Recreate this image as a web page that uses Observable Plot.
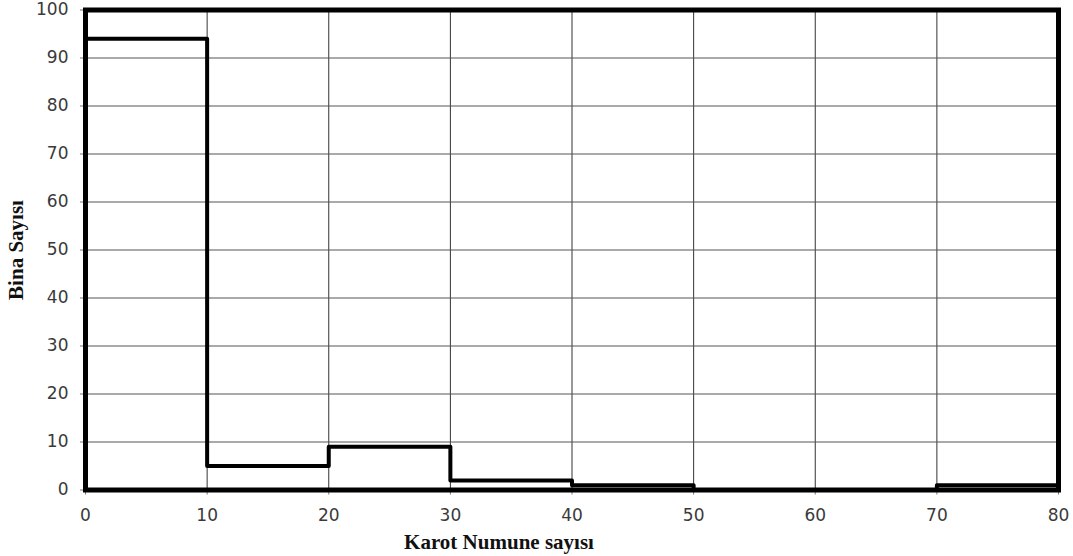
<!DOCTYPE html>
<html>
<head>
<meta charset="utf-8">
<script src="https://cdn.jsdelivr.net/npm/d3@7"></script>
<script src="https://cdn.jsdelivr.net/npm/@observablehq/plot@0.6"></script>
<style>
  html, body { margin: 0; padding: 0; background: #fff; }
  g[aria-label="x-title"] text, g[aria-label="y-title"] text { letter-spacing: 1.2px; }
</style>
</head>
<body>
<div id="chart"></div>
<script>
// Data
const binStarts = [0, 10, 20, 30, 40, 50, 60, 70, 80];
const counts    = [94, 5, 9, 2, 1, 0, 0, 1, 1];
const xTicks = [0, 10, 20, 30, 40, 50, 60, 70, 80];
const yTicks = [0, 10, 20, 30, 40, 50, 60, 70, 80, 90, 100];
const xTitle = "Karot Numune sayısı";
const yTitle = "Bina Sayısı";

const steps = binStarts.map((x, i) => ({x, y: counts[i]}));

const chart = Plot.plot({
  width: 1073,
  height: 556,
  marginLeft: 85,
  marginRight: 15,
  marginTop: 9.5,
  marginBottom: 66.5,
  style: {fontFamily: "'DejaVu Sans', Verdana, sans-serif", fontSize: "17px", color: "#333", background: "#fff"},
  x: {domain: [0, 80], ticks: xTicks, tickSize: 5, tickPadding: 14, label: null},
  y: {domain: [0, 100], ticks: yTicks, tickSize: 5, tickPadding: 12, label: null},
  marks: [
    Plot.ruleX(xTicks, {stroke: "#333", strokeWidth: 1}),
    Plot.ruleY(yTicks, {stroke: "#555", strokeWidth: 1}),
    Plot.axisX({ticks: xTicks, tickSize: 5, tickPadding: 14, stroke: "#777", fill: "#3a3a3a", label: null}),
    Plot.axisY({ticks: yTicks, tickSize: 5, tickPadding: 12, stroke: "#777", fill: "#3a3a3a", label: null}),
    Plot.line(steps, {x: "x", y: "y", curve: "step-after", stroke: "black", strokeWidth: 4}),
    Plot.frame({stroke: "black", strokeWidth: 5}),
    Plot.text([xTitle], {frameAnchor: "bottom", textAnchor: "middle", dx: -73, dy: 59, fontFamily: "'Liberation Serif', 'Times New Roman', serif", fontWeight: "bold", fontSize: 21, fill: "#111", lineAnchor: "bottom", ariaLabel: "x-title"}),
    Plot.text([yTitle], {frameAnchor: "left", textAnchor: "middle", dx: -69, rotate: -90, fontFamily: "'Liberation Serif', 'Times New Roman', serif", fontWeight: "bold", fontSize: 21, fill: "#111", ariaLabel: "y-title"})
  ]
});
document.getElementById("chart").appendChild(chart);
</script>
</body>
</html>
